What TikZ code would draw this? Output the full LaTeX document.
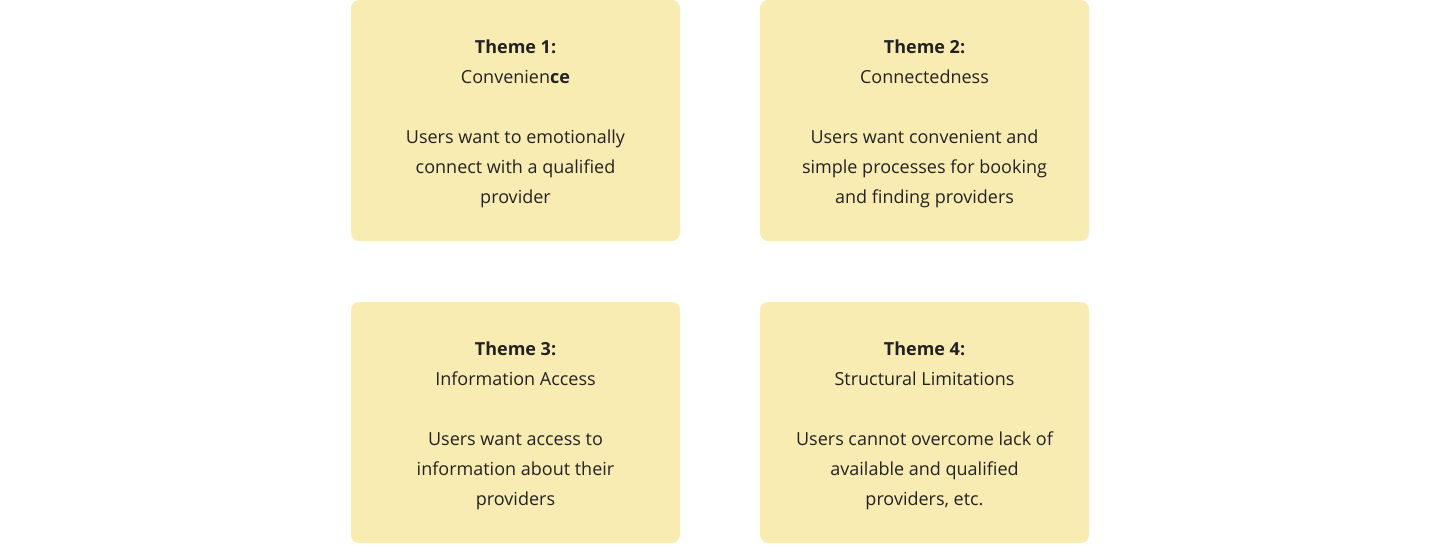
\documentclass[tikz,border=0pt]{standalone}
\usepackage{fontspec}
\setmainfont{Open Sans}
\definecolor{themefill}{HTML}{F9ECB3}
\definecolor{themetext}{HTML}{222222}
\newcommand\themehead[1]{\rule{0pt}{20pt}\textbf{#1}}
\tikzset{themebox/.style={fill=themefill,rounded corners=8pt,minimum width=329pt,minimum height=241pt,
  align=center,text=themetext,inner sep=0pt,font=\fontsize{18}{30}\selectfont}}

\begin{document}
\begin{tikzpicture}[x=1pt,y=-1pt]
      \useasboundingbox (0,0) rectangle (1440,544);

      \node[themebox] (theme1) at (515.5,120.5) {\themehead{Theme 1:}\\Convenien\textbf{ce}\\[30pt]Users want to emotionally\\connect with a qualified\\provider};
      \node[themebox] (theme2) at (924.5,120.5) {\themehead{Theme 2:}\\Connectedness\\[30pt]Users want convenient and\\simple processes for booking\\and finding providers};
      \node[themebox] (theme3) at (515.5,422.5) {\themehead{Theme 3:}\\Information Access\\[30pt]Users want access to\\information about their\\providers};
      \node[themebox] (theme4) at (924.5,422.5) {\themehead{Theme 4:}\\Structural Limitations\\[30pt]Users cannot overcome lack of\\available and qualified\\providers, etc.};
    \end{tikzpicture}
\end{document}
